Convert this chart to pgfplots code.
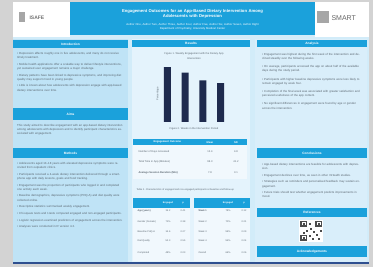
\documentclass[border=0pt]{standalone}
\usepackage{fontspec}
\setmainfont{Liberation Sans}
\usepackage{pgfplots}
\pgfplotsset{compat=1.18}
\definecolor{outer}{HTML}{D3D3D3}
\definecolor{poster}{HTML}{D2ECF9}
\definecolor{hdr}{HTML}{1BA1DB}
\definecolor{colL}{HTML}{BFE3F6}
\definecolor{colM}{HTML}{E4F3FC}
\definecolor{colR}{HTML}{D9EEFA}
\definecolor{navy}{HTML}{1E2A4E}
\definecolor{txt}{HTML}{5A6670}
\definecolor{rowbg}{HTML}{F1F8FD}
\definecolor{bline}{HTML}{2F4F8F}
\newcommand{\bodyfont}{\fontsize{2.9}{4.2}\selectfont}
\newcommand{\hdrfont}{\fontsize{3.2}{4}\selectfont\bfseries}
\begin{document}
\begin{tikzpicture}[x=1pt,y=1pt]
% backgrounds
\fill[outer] (0,0) rectangle (373,267);
\fill[poster] (13,3) rectangle (369,265);
\fill[colL] (13,4.5) rectangle (128,228);
\fill[colM] (132,4.5) rectangle (250,228);
\fill[colR] (255,4.5) rectangle (367,228);
\fill[bline] (13,3) rectangle (369,4.5);
% header
\fill[white] (13,230) rectangle (70,265);
\fill[hdr] (70,232) rectangle (315,265);
\fill[white] (315,230) rectangle (369,265);
\fill[gray!70] (19,245) rectangle (25,255);
\node[anchor=west,text=gray!90!black,font=\fontsize{5}{5}\selectfont\bfseries] at (26,249) {ISAFE};
\fill[gray!70] (317,244) rectangle (329,256);
\node[anchor=west,text=gray!80!black,font=\fontsize{7}{7}\selectfont] at (328,249) {SMART};
\node[text=white,align=center,text width=235pt,font=\fontsize{4.2}{5.4}\selectfont\bfseries] at (192.5,253) {Engagement Outcomes for an App-Based Dietary Intervention Among\\ Adolescents with Depression};
\node[text=white,align=center,text width=235pt,font=\fontsize{2.8}{4}\selectfont] at (192.5,240.5) {Author One, Author Two, Author Three, Author Four, Author Five, Author Six, Author Seven, Author Eight\\ Department of Psychiatry, University Medical Center};
% section headers
\foreach \a/\b/\c/\d/\t in {13/219/128/227/Introduction, 13/147/128/159/Aims, 13/109/128/119/Methods, 132/220/250/227/Results, 257/220/367/227/Analysis, 257/109/367/119/Conclusions, 257/50/367/59/References, 257/10/367/21/Acknowledgements}{
  \fill[hdr] (\a,\b) rectangle (\c,\d);
  \node[text=white,font=\hdrfont] at ({(\a+\c)/2},{(\b+\d)/2}) {\t};
}
% left column text
\node[anchor=north west,text width=106pt,text=txt,font=\bodyfont,inner sep=0pt] at (17,215) {%
\textbullet\ Depression affects roughly one in five adolescents, and many do not receive timely treatment.\par\vspace{2.5pt}
\textbullet\ Mobile health applications offer a scalable way to deliver lifestyle interventions, yet sustained user engagement remains a major challenge.\par\vspace{2.5pt}
\textbullet\ Dietary patterns have been linked to depressive symptoms, and improving diet quality may support mood in young people.\par\vspace{2.5pt}
\textbullet\ Little is known about how adolescents with depression engage with app-based dietary interventions over time.};
\node[anchor=north west,text width=106pt,text=txt,font=\bodyfont,inner sep=0pt] at (17,143) {%
This study aimed to describe engagement with an app-based dietary intervention among adolescents with depression and to identify participant characteristics associated with engagement.};
\node[anchor=north west,text width=106pt,text=txt,font=\bodyfont,inner sep=0pt] at (17,105) {%
\textbullet\ Adolescents aged 13--18 years with elevated depressive symptoms were recruited from outpatient clinics.\par\vspace{2.5pt}
\textbullet\ Participants received a 4-week dietary intervention delivered through a smartphone app with daily lessons, goals and food tracking.\par\vspace{2.5pt}
\textbullet\ Engagement was the proportion of participants who logged in and completed one activity each week.\par\vspace{2.5pt}
\textbullet\ Baseline demographics, depressive symptoms (PHQ-A) and diet quality were collected online.\par\vspace{2.5pt}
\textbullet\ Descriptive statistics summarised weekly engagement.\par\vspace{2.5pt}
\textbullet\ Chi-square tests and t-tests compared engaged and non-engaged participants.\par\vspace{2.5pt}
\textbullet\ Logistic regression examined predictors of engagement across the intervention.\par\vspace{2.5pt}
\textbullet\ Analyses were conducted in R version 4.2.};
% chart
\begin{axis}[at={(158.5pt,145pt)},anchor=south west,scale only axis,
  width=71pt,height=56.4pt,xmin=0.5,xmax=4.5,ymin=0,ymax=80,
  axis line style={draw=none},tick style={draw=none},xtick=\empty,ytick=\empty,
  ybar,bar width=7pt,
  title={Figure 1. Weekly Engagement with the Dietary App\\ Intervention},
  title style={font=\fontsize{2.6}{4.5}\selectfont,text=txt,align=center,yshift=-3pt},
  xlabel={Figure 2. Weeks in the Intervention Period},
  xlabel style={font=\fontsize{2.6}{3}\selectfont,text=txt,yshift=2pt},
  ylabel={Percentage},
  ylabel style={font=\fontsize{2.6}{3}\selectfont,text=txt,yshift=-4pt}]
\addplot[fill=navy,draw=none] coordinates {(1,78) (2,70) (3,59) (4,55)};
\end{axis}
% table 1
\fill[rowbg] (133,88) rectangle (247,122);
\fill[hdr] (133,122) rectangle (247,127.5);
\node[text=white,font=\fontsize{2.6}{3}\selectfont\bfseries,anchor=west] at (150,124.8) {Engagement Outcome};
\node[text=white,font=\fontsize{2.6}{3}\selectfont\bfseries] at (210,124.8) {Mean};
\node[text=white,font=\fontsize{2.6}{3}\selectfont\bfseries] at (236,124.8) {SD};
\foreach \y/\l/\m/\s in {115/Number of Days Accessed/12.4/4.8, 105/Total Time in App (Minutes)/96.3/41.2, 94/\textbf{Average Session Duration (Min)}/7.8/3.1}{
  \node[text=txt,font=\fontsize{2.6}{3}\selectfont,anchor=west] at (135,\y) {\l};
  \node[text=txt,font=\fontsize{2.6}{3}\selectfont] at (210,\y) {\m};
  \node[text=txt,font=\fontsize{2.6}{3}\selectfont] at (236,\y) {\s};
}
\node[text=txt,font=\fontsize{2.4}{3}\selectfont,anchor=west] at (133,77) {Table 2. Characteristics of engaged and non-engaged participants at baseline and follow-up};
% table 2
\fill[rowbg] (133,6) rectangle (190,59);
\fill[hdr] (133,59) rectangle (190,69);
\fill[rowbg] (194,6) rectangle (250,59);
\fill[hdr] (194,59) rectangle (250,69);
\node[text=white,font=\fontsize{2.4}{3}\selectfont\bfseries] at (168,64) {Engaged};
\node[text=white,font=\fontsize{2.4}{3}\selectfont\bfseries] at (183,64) {p};
\node[text=white,font=\fontsize{2.4}{3}\selectfont\bfseries] at (228,64) {Engaged};
\node[text=white,font=\fontsize{2.4}{3}\selectfont\bfseries] at (244,64) {p};
\foreach \y/\l/\m/\s/\r/\n/\o in {56/\textbf{Age (years)}/15.2/0.41/\textbf{Week 1}/78\%/0.12, 45/Gender (Female)/71\%/0.38/Week 2/70\%/0.21, 35/Baseline PHQ-A/14.6/0.27/Week 3/59\%/0.09, 26/Diet Quality/52.3/0.55/Week 4/55\%/0.04, 14/Completed/48\%/0.03/Overall/66\%/0.06}{
  \node[text=txt,font=\fontsize{2.4}{3}\selectfont,anchor=west] at (134,\y) {\l};
  \node[text=txt,font=\fontsize{2.4}{3}\selectfont] at (168,\y) {\m};
  \node[text=txt,font=\fontsize{2.4}{3}\selectfont] at (183,\y) {\s};
  \node[text=txt,font=\fontsize{2.4}{3}\selectfont,anchor=west] at (195,\y) {\r};
  \node[text=txt,font=\fontsize{2.4}{3}\selectfont] at (228,\y) {\n};
  \node[text=txt,font=\fontsize{2.4}{3}\selectfont] at (244,\y) {\o};
}
% right column
\node[anchor=north west,text width=100pt,text=txt,font=\bodyfont,inner sep=0pt] at (262,214) {%
\textbullet\ Engagement was highest during the first week of the intervention and declined steadily over the following weeks.\par\vspace{4pt}
\textbullet\ On average, participants accessed the app on about half of the available days during the study period.\par\vspace{4pt}
\textbullet\ Participants with higher baseline depressive symptoms were less likely to remain engaged by week four.\par\vspace{4pt}
\textbullet\ Completion of the final week was associated with greater satisfaction and perceived usefulness of the app content.\par\vspace{4pt}
\textbullet\ No significant differences in engagement were found by age or gender across the intervention.};
\node[anchor=north west,text width=100pt,text=txt,font=\bodyfont,inner sep=0pt] at (262,104) {%
\textbullet\ App-based dietary interventions are feasible for adolescents with depression.\par\vspace{2.5pt}
\textbullet\ Engagement declines over time, as seen in other mHealth studies.\par\vspace{2.5pt}
\textbullet\ Strategies such as reminders and personalised feedback may sustain engagement.\par\vspace{2.5pt}
\textbullet\ Future trials should test whether engagement predicts improvements in mood.};
% QR code
\fill[white] (299,25) rectangle (323,47);
\foreach \qx/\qy in {300/40,315/40,300/26}{\fill[gray!60!black] (\qx,\qy) rectangle ++(7,6);\fill[white] (\qx+1.5,\qy+1.5) rectangle ++(4,3);\fill[gray!60!black] (\qx+2.5,\qy+2.2) rectangle ++(2,1.6);}
\foreach \qx/\qy in {309/42,310/37,313/34,309/30,316/31,318/27,312/27,320/35,306/35,303/33}{\fill[gray!60!black] (\qx,\qy) rectangle ++(2,2);}
\end{tikzpicture}
\end{document}
